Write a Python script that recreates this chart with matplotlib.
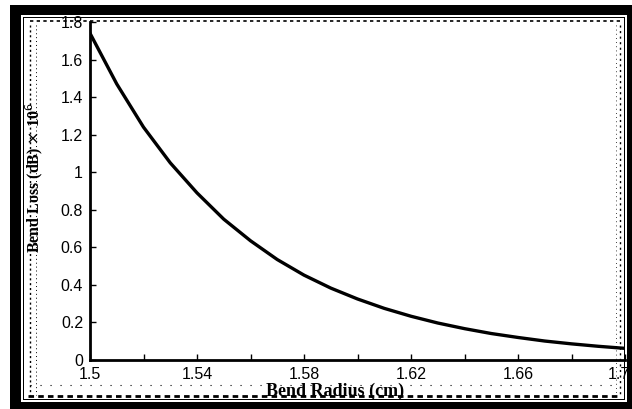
import matplotlib
matplotlib.use("Agg")
import matplotlib.pyplot as plt
import matplotlib.transforms as mtransforms
from matplotlib.patches import Rectangle
from matplotlib.lines import Line2D

# Data
radius = [1.50, 1.51, 1.52, 1.53, 1.54, 1.55, 1.56, 1.57, 1.58, 1.59, 1.60,
          1.61, 1.62, 1.63, 1.64, 1.65, 1.66, 1.67, 1.68, 1.69, 1.70]
loss = [1.74, 1.47, 1.24, 1.05, 0.89, 0.75, 0.635, 0.535, 0.452, 0.383, 0.325,
        0.275, 0.233, 0.197, 0.167, 0.141, 0.120, 0.101, 0.086, 0.073, 0.062]
xticks = [1.50, 1.52, 1.54, 1.56, 1.58, 1.60, 1.62, 1.64, 1.66, 1.68, 1.70]
xtick_labels = ["1.5", "", "1.54", "", "1.58", "", "1.62", "", "1.66", "", "1.7"]
yticks = [0, 0.2, 0.4, 0.6, 0.8, 1.0, 1.2, 1.4, 1.6, 1.8]
ytick_labels = ["0", "0.2", "0.4", "0.6", "0.8", "1", "1.2", "1.4", "1.6", "1.8"]

W, H = 632, 409
fig = plt.figure(figsize=(W / 100, H / 100), dpi=100)
fig.patch.set_facecolor("white")

def px_rect(x0, y0, x1, y1, color):
    fig.patches.append(Rectangle((x0 / W, 1 - y1 / H), (x1 - x0) / W, (y1 - y0) / H,
                                 transform=fig.transFigure, facecolor=color,
                                 edgecolor="none", zorder=0))

# Thick black scan frame
px_rect(10, 5, 632, 15, "black")      # top
px_rect(10, 5, 21, 409, "black")      # left
px_rect(627, 5, 632, 409, "black")    # right
px_rect(10, 402, 632, 409, "black")   # bottom
# thin inner black line
for (x0, y0, x1, y1) in [(23, 17, 625, 18), (23, 17, 24, 400), (624, 17, 625, 400), (23, 399, 625, 400)]:
    px_rect(x0, y0, x1, y1, "black")

# dotted scan artefacts near inner frame
def px_line(xs, ys, **kw):
    fig.add_artist(Line2D([x / W for x in xs], [1 - y / H for y in ys],
                          transform=fig.transFigure, color="black", **kw))

px_line([30, 620], [21, 21], linestyle=(0, (2, 2)), linewidth=1.2)
px_line([30, 30], [25, 395], linestyle=(0, (1.5, 2)), linewidth=1.0)
px_line([36, 36], [25, 395], linestyle=(0, (1, 3)), linewidth=0.7)
px_line([28, 620], [396, 396], linestyle=(0, (2, 1.5)), linewidth=2.0)
px_line([30, 620], [385, 385], linestyle=(0, (1, 8)), linewidth=0.8)
px_line([620, 620], [25, 395], linestyle=(0, (1.5, 2.5)), linewidth=1.0)
px_line([616, 616], [25, 395], linestyle=(0, (1, 4)), linewidth=0.6)

ax = fig.add_axes([90 / W, 1 - 360 / H, (625 - 90) / W, (360 - 22) / H])
ax.set_facecolor("none")
ax.plot(radius, loss, color="black", linewidth=2.4, solid_joinstyle="round")
ax.set_xlim(1.5, 1.7)
ax.set_ylim(0, 1.8)
for s in ["top", "right"]:
    ax.spines[s].set_visible(False)
for s in ["left", "bottom"]:
    ax.spines[s].set_linewidth(2.0)
ax.set_xticks(xticks)
ax.set_xticklabels(xtick_labels)
ax.set_yticks(yticks)
ax.set_yticklabels(ytick_labels)
ax.tick_params(direction="in", length=4, width=1.0, labelsize=11.5, pad=5)
for lab in ax.get_xticklabels() + ax.get_yticklabels():
    lab.set_family("Liberation Sans")

# last x label sits partly under the scan frame, as in the reference
last = ax.get_xticklabels()[-1]
last.set_transform(last.get_transform() +
                   mtransforms.ScaledTranslation(-6 / 100, 0, fig.dpi_scale_trans))

fig.text(335 / W, 1 - 391 / H, "Bend Radius (cm)", ha="center", va="center",
         fontsize=13, fontweight="bold", family="Liberation Serif")
fig.text(34 / W, 1 - 178 / H, r"Bend Loss (dB) $\times$ 10$^{6}$", ha="center", va="center",
         rotation=90, fontsize=11.5, fontweight="bold", family="Liberation Serif")

fig.savefig("out.png", dpi=100, facecolor=fig.get_facecolor())
